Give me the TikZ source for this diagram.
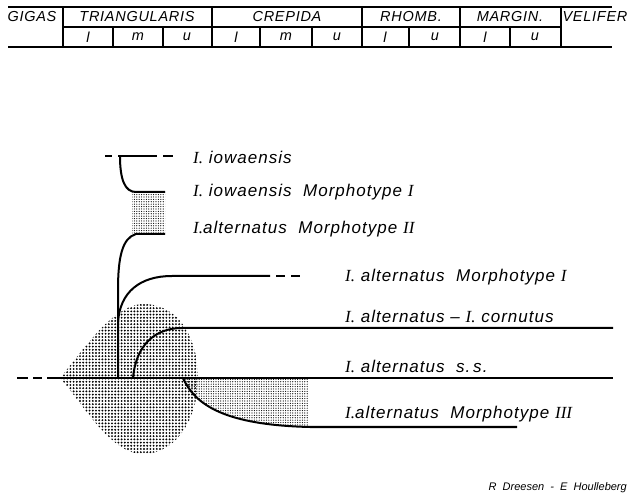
\documentclass[tikz,border=0pt]{standalone}
\usepackage{fontspec}
\newfontfamily\labfont[LetterSpace=6]{Liberation Sans}
\newfontfamily\hdfont[LetterSpace=5]{Liberation Sans}
\newfontfamily\crfont{Liberation Sans}
\newfontfamily\serfont{Liberation Serif}
\usetikzlibrary{patterns.meta}
\newcommand\RI[1]{{\serfont\itshape #1}}
\tikzset{
  hd/.style={font=\hdfont\itshape\fontsize{14.5}{17}\selectfont, inner sep=0},
  lab/.style={font=\labfont\itshape\fontsize{17}{19}\selectfont, anchor=west, inner sep=0},
  tline/.style={line width=1.6pt},
  lin/.style={line width=2pt},
  coarse/.style={pattern={Dots[distance=3.2pt,radius=1.05pt]}},
  fine/.style={pattern={Dots[distance=2.4pt,radius=0.6pt]}}
}
\begin{document}
\begin{tikzpicture}[x=1pt,y=-1pt]
\useasboundingbox (0,0) rectangle (630,497);
% table
\draw[tline] (8,7) -- (612,7);
\draw[tline] (63,27) -- (561,27);
\draw[tline] (8,47) -- (612,47);
\foreach \x in {63,212,362,460,561} \draw[tline] (\x,7) -- (\x,47);
\foreach \x in {113,163,260,312,409,510} \draw[tline] (\x,27) -- (\x,47);
\node[hd] (gig) at (32,17) {GIGAS};
\node[hd] (tri) at (137,17) {TRIANGULARIS};
\node[hd] (cre) at (287,17) {CREPIDA};
\node[hd] (rho) at (411,17) {RHOMB.};
\node[hd] (mar) at (510,17) {MARGIN.};
\node[hd] (vel) at (595,17) {VELIFER};
\foreach \x/\t [count=\i] in {88/l,138/m,187/u,236/l,286/m,337/u,385/l,435/u,485/l,535/u}
  \node[hd] (s\i) at (\x,37) {\t};
% stipple areas
\fill[coarse] (60,378) .. controls (82,352) and (112,305) .. (143,304)
  .. controls (180,304) and (198,340) .. (198,378)
  .. controls (198,420) and (175,454) .. (143,454)
  .. controls (110,454) and (82,402) .. (60,378) -- cycle;
\fill[fine] (132,192) rectangle (165,234);
\fill[fine] (183,378) .. controls (195,405) and (225,425) .. (308,427) -- (308,378) -- cycle;
% coordinates
\coordinate (a0) at (105,156);
\coordinate (a1) at (173,156);
\coordinate (b1) at (165,192);
\coordinate (c1) at (165,234);
\coordinate (v0) at (118,378);
\coordinate (m1) at (302,276);
\coordinate (k1) at (613,328);
\coordinate (s0) at (17,378);
\coordinate (s1) at (613,378);
\coordinate (t1) at (517,427);
% lines
\draw[lin, dash pattern=on 7pt off 6pt on 39pt off 6pt on 10pt] (a0) -- (a1);
\draw[lin] (120,156) .. controls (120,180) and (125,192) .. (136,192) -- (b1);
\draw[lin] (c1) -- (136,234) .. controls (122,238) and (118,258) .. (118,290) -- (v0);
\draw[lin] (118,322) .. controls (120,292) and (140,276) .. (172,276) -- (270,276);
\draw[lin, dash pattern=on 9pt off 6pt] (276,276) -- (m1);
\draw[lin] (133,378) .. controls (136,345) and (155,328) .. (182,328) -- (k1);
\draw[lin, dash pattern=on 11pt off 5pt on 9pt off 5pt on 600pt] (s0) -- (s1);
\draw[lin] (183,378) .. controls (195,405) and (225,425) .. (310,427) -- (t1);
% labels
\node[lab] (l1) at (193,157) {\RI{I.}\ iowaensis};
\node[lab] (l2) at (193,192) {\RI{I.}\ iowaensis\ \ Morphotype \RI{I}};
\node[lab] (l3) at (193,229) {\RI{I.}alternatus\ \ Morphotype \RI{II}};
\node[lab] (l4) at (345,277) {\RI{I.}\ alternatus\ \ Morphotype \RI{I}};
\node[lab] (l5) at (345,316) {\RI{I.}\ alternatus – \RI{I.}\ cornutus};
\node[lab] (l6) at (345,366) {\RI{I.}\ alternatus\ \ s.\,s.};
\node[lab] (l7) at (345,414) {\RI{I.}alternatus\ \ Morphotype \RI{III}};
\node[font=\crfont\itshape\fontsize{11}{13}\selectfont, anchor=east, inner sep=0] (cr) at (627,488) {R\ \ Dreesen\ \ -\ \ E\ \ Houlleberg};
\end{tikzpicture}
\end{document}
